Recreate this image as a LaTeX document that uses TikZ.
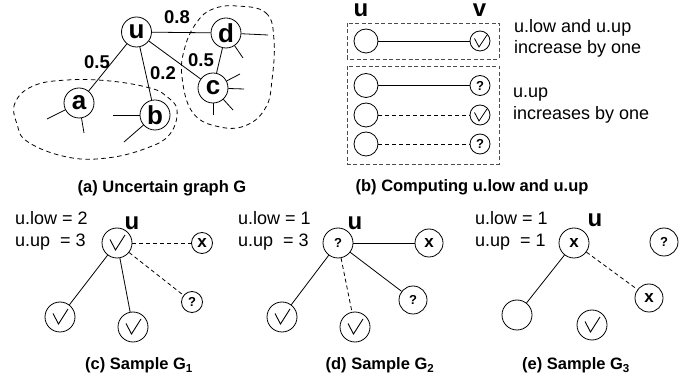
\documentclass[tikz,border=0pt]{standalone}
\usepackage{fontspec}
\setmainfont{Liberation Sans}
\usetikzlibrary{calc}

\tikzset{
  vbase/.style={circle, draw, line width=0.8pt, inner sep=0pt},
  gvert/.style={vbase, minimum size=30pt, font=\bfseries\fontsize{26}{26}\selectfont},
  bigv/.style={vbase, minimum size=30pt},
  midv/.style={vbase, minimum size=28pt},
  smallv/.style={vbase, minimum size=21pt},
  lcirc/.style={vbase, minimum size=24pt},
  rcirc/.style={vbase, minimum size=20pt},
  checkbig/.style={path picture={\draw[line width=0.9pt]
      ([shift={(-7pt,3.5pt)}]path picture bounding box.center) -- ++(5.5pt,-10.5pt) -- ++(9.5pt,15pt);}},
  checksmall/.style={path picture={\draw[line width=0.8pt]
      ([shift={(-5.5pt,2.5pt)}]path picture bounding box.center) -- ++(4.5pt,-8.5pt) -- ++(8pt,12pt);}},
  qm/.style={font=\bfseries\fontsize{13}{13}\selectfont},
  xm/.style={font=\bfseries\fontsize{17}{17}\selectfont},
  edge/.style={line width=0.8pt},
  dedge/.style={line width=0.8pt, dash pattern=on 4pt off 3pt},
  blob/.style={line width=0.8pt, dash pattern=on 4.5pt off 3.5pt},
  groupbox/.style={line width=0.8pt, black!70, dash pattern=on 4pt off 2.5pt},
  wlabel/.style={font=\bfseries\fontsize{18.5}{18.5}\selectfont, inner sep=0pt},
  body/.style={font=\fontsize{18}{18}\selectfont, inner sep=0pt, anchor=base west},
  head/.style={font=\bfseries\fontsize{24}{24}\selectfont, inner sep=0pt, anchor=base,
    text height=12pt, text depth=0pt},
  caption/.style={font=\bfseries\fontsize{16.5}{16.5}\selectfont, inner sep=0pt, anchor=base},
}

\begin{document}
\begin{tikzpicture}[x=1pt, y=-1pt]
\useasboundingbox (0,0) rectangle (694,379);

% ---------- (a) uncertain graph ----------
\draw[blob] plot[smooth cycle, tension=0.7] coordinates {
  (33,86) (15,103) (17,124) (28,142) (67,157) (107,158) (147,148)
  (170,134) (177,110) (166,96) (150,88) (110,81) (67,80)};
\draw[blob] plot[smooth cycle, tension=0.7] coordinates {
  (237,6) (266,13) (274,40) (272,80) (266,107) (247,125) (220,127)
  (193,113) (182,77) (185,47) (197,22) (213,9)};

\node[gvert] (u) at (136.5,32) {u};
\node[gvert] (d) at (226,33) {d};
\node[gvert] (c) at (213,88) {c};
\node[gvert] (a) at (79,103) {a};
\node[gvert] (b) at (155,115) {b};

\draw[edge] (u) -- (d);
\draw[edge] (u) -- (a);
\draw[edge] (u) -- (b);
\draw[edge] (u) -- (c);
\draw[edge] (d) -- (c);

% dangling edges to the rest of the graph
\draw[edge] (d) -- ++(42,2);
\draw[edge] (d) -- ++(17,25);
\draw[edge] (c) -- ++(27,-14);
\draw[edge] (c) -- ++(31,1);
\draw[edge] (c) -- ++(20,22);
\draw[edge] (c) -- ++(0,27);
\draw[edge] (a) -- ++(-32,16);
\draw[edge] (a) -- ++(5,30);
\draw[edge] (b) -- ++(-42,0);
\draw[edge] (b) -- ++(-31,27);

\node[wlabel] (w1) at (177,17) {0.8};
\node[wlabel] (w2) at (97,62) {0.5};
\node[wlabel] (w3) at (163,73) {0.2};
\node[wlabel] (w4) at (201,60) {0.5};

\node[caption] (capa) at (162,193) {(a) Uncertain graph G};

% ---------- (b) computing u.low and u.up ----------
\node[head] (hu) at (361,16.5) {u};
\node[head] (hv) at (479.5,16.5) {v};

\draw[groupbox] (347,23) rectangle (499,59);
\draw[groupbox] (347,66) rectangle (499,164);

\node[lcirc] (l1) at (366,41) {};
\node[rcirc, checksmall] (r1) at (480,41) {};
\node[lcirc] (l2) at (366,85.5) {};
\node[rcirc, qm] (r2) at (480,85.5) {?};
\node[lcirc] (l3) at (366,115) {};
\node[rcirc, checksmall] (r3) at (480,115) {};
\node[lcirc] (l4) at (366,144) {};
\node[rcirc, qm] (r4) at (480,144) {?};

\draw[edge] (l1) -- (r1);
\draw[edge] (l2) -- (r2);
\draw[dedge] (l3) -- (r3);
\draw[dedge] (l4) -- (r4);

\node[body] (t1) at (514,33) {u.low and u.up};
\node[body] (t2) at (514,54) {increase by one};
\node[body] (t3) at (513,98) {u.up};
\node[body] (t4) at (513,120) {increases by one};

\node[caption] (capb) at (472,192) {(b) Computing u.low and u.up};

% ---------- (c) sample G1 ----------
\node[body] (c1) at (15,225) {u.low = 2};
\node[body] (c2) at (15,247) {u.up\ \ = 3};
\node[head] (cu) at (132,230) {u};
\node[bigv, checkbig] (cU) at (117,243) {};
\node[smallv, xm] (cX) at (202,243) {x};
\node[smallv, qm] (cQ) at (192,302) {?};
\node[bigv, checkbig] (cA) at (60,317) {};
\node[bigv, checkbig] (cB) at (133,327) {};
\draw[dedge] (cU) -- (cX);
\draw[dedge] (cU) -- (cQ);
\draw[edge] (cU) -- (cA);
\draw[edge] (cU) -- (cB);
\node[caption] (capc) at (139,370) {(c) Sample G\textsubscript{1}};

% ---------- (d) sample G2 ----------
\node[body] (d1) at (238,225) {u.low = 1};
\node[body] (d2) at (238,247) {u.up\ \ = 3};
\node[head] (du) at (355,230) {u};
\node[bigv, qm] (dU) at (338,243) {?};
\node[midv, xm] (dX) at (429,243) {x};
\node[midv, qm] (dQ) at (413,300) {?};
\node[bigv, checkbig] (dA) at (282,317) {};
\node[bigv, checkbig] (dB) at (355,327) {};
\draw[edge] (dU) -- (dX);
\draw[edge] (dU) -- (dQ);
\draw[edge] (dU) -- (dA);
\draw[dedge] (dU) -- (dB);
\node[caption] (capd) at (380,370) {(d) Sample G\textsubscript{2}};

% ---------- (e) sample G3 ----------
\node[body] (e1) at (475,225) {u.low = 1};
\node[body] (e2) at (475,247) {u.up\ \ = 1};
\node[head] (eu) at (595,227) {u};
\node[bigv, xm] (eU) at (574,243) {x};
\node[midv, qm] (eQ) at (664,242) {?};
\node[midv, xm] (eX) at (649,298) {x};
\node[bigv] (eA) at (517,315) {};
\node[bigv, checkbig] (eB) at (592,325) {};
\draw[edge] (eU) -- (eA);
\draw[dedge] (eU) -- (eX);
\node[caption] (cape) at (576,370) {(e) Sample G\textsubscript{3}};
\end{tikzpicture}
\end{document}
